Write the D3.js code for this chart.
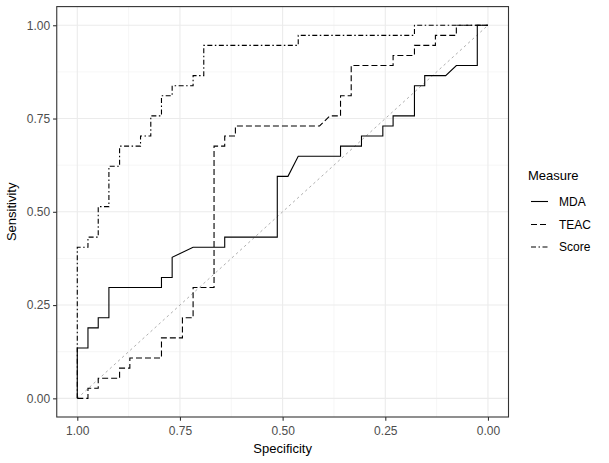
<!DOCTYPE html>
<html><head><meta charset="utf-8">
<script src="https://cdn.jsdelivr.net/npm/d3@7"></script>
<style>body{margin:0;background:#fff}svg{display:block}text{font-family:"Liberation Sans",Arial,sans-serif}</style>
</head><body>
<svg id="c" width="609" height="463"></svg>
<script>
const seriesNames = ["MDA", "TEAC", "Score"];
const dashes = ["", "6,3", "5,2.5,1.5,2.5"];

const mdaSpec = [1,1,0.974,0.974,0.949,0.949,0.923,0.923,0.795,0.795,0.769,0.769,0.718,0.641,0.641,0.513,0.513,0.487,0.462,0.359,0.359,0.308,0.308,0.256,0.256,0.231,0.231,0.179,0.179,0.154,0.154,0.103,0.077,0.026,0.026,0];
const mdaSens = [0,0.135,0.135,0.189,0.189,0.216,0.216,0.297,0.297,0.324,0.324,0.378,0.405,0.405,0.432,0.432,0.595,0.595,0.649,0.649,0.676,0.676,0.703,0.703,0.730,0.730,0.757,0.757,0.838,0.838,0.865,0.865,0.892,0.892,1,1];

const teacSpec = [1,0.974,0.974,0.949,0.949,0.897,0.897,0.872,0.872,0.795,0.795,0.744,0.744,0.718,0.718,0.667,0.667,0.641,0.641,0.615,0.615,0.410,0.385,0.359,0.359,0.333,0.333,0.231,0.231,0.179,0.179,0.128,0.128,0.077,0.077,0];
const teacSens = [0,0,0.027,0.027,0.054,0.054,0.081,0.081,0.108,0.108,0.162,0.162,0.216,0.216,0.297,0.297,0.676,0.676,0.703,0.703,0.730,0.730,0.757,0.757,0.811,0.811,0.892,0.892,0.919,0.919,0.946,0.946,0.973,0.973,1,1];

const scoreSpec = [1,1,0.974,0.974,0.949,0.949,0.923,0.923,0.897,0.897,0.846,0.846,0.821,0.821,0.795,0.795,0.769,0.769,0.718,0.718,0.692,0.692,0.462,0.462,0.179,0.179,0];
const scoreSens = [0,0.405,0.405,0.432,0.432,0.514,0.514,0.622,0.622,0.676,0.676,0.703,0.703,0.757,0.757,0.811,0.811,0.838,0.838,0.865,0.865,0.946,0.946,0.973,0.973,1,1];

const xTicks = [1, 0.75, 0.5, 0.25, 0];
const yTicks = [0, 0.25, 0.5, 0.75, 1];
const xMinor = [0.875, 0.625, 0.375, 0.125];
const yMinor = [0.125, 0.375, 0.625, 0.875];

const series = [
  {name: seriesNames[0], spec: mdaSpec, sens: mdaSens, dash: dashes[0]},
  {name: seriesNames[1], spec: teacSpec, sens: teacSens, dash: dashes[1]},
  {name: seriesNames[2], spec: scoreSpec, sens: scoreSens, dash: dashes[2]}
];

const L = 56.75, R = 508.5, T = 6.6, B = 417;
const x = d3.scaleLinear().domain([1.05, -0.05]).range([L, R]);
const y = d3.scaleLinear().domain([-0.05, 1.05]).range([B, T]);

const svg = d3.select("#c");
const g = svg.append("g");

// minor grid
g.selectAll(".xm").data(xMinor).enter().append("line")
  .attr("x1", d => x(d)).attr("x2", d => x(d)).attr("y1", T).attr("y2", B)
  .attr("stroke", "#f0f0f0").attr("stroke-width", 0.6);
g.selectAll(".ym").data(yMinor).enter().append("line")
  .attr("y1", d => y(d)).attr("y2", d => y(d)).attr("x1", L).attr("x2", R)
  .attr("stroke", "#f0f0f0").attr("stroke-width", 0.6);
// major grid
g.selectAll(".xg").data(xTicks).enter().append("line")
  .attr("x1", d => x(d)).attr("x2", d => x(d)).attr("y1", T).attr("y2", B)
  .attr("stroke", "#ebebeb").attr("stroke-width", 1.1);
g.selectAll(".yg").data(yTicks).enter().append("line")
  .attr("y1", d => y(d)).attr("y2", d => y(d)).attr("x1", L).attr("x2", R)
  .attr("stroke", "#ebebeb").attr("stroke-width", 1.1);

// diagonal reference
g.append("line")
  .attr("x1", x(1)).attr("y1", y(0)).attr("x2", x(0)).attr("y2", y(1))
  .attr("stroke", "#999999").attr("stroke-width", 0.8).attr("stroke-dasharray", "2.5,3");

// curves
const line = d3.line().x(d => x(d[0])).y(d => y(d[1]));
series.forEach(s => {
  const pts = s.spec.map((v, i) => [v, s.sens[i]]);
  g.append("path").attr("d", line(pts))
    .attr("fill", "none").attr("stroke", "#000").attr("stroke-width", 1.1)
    .attr("stroke-dasharray", s.dash || null);
});

// panel border
g.append("rect").attr("x", L).attr("y", T).attr("width", R - L).attr("height", B - T)
  .attr("fill", "none").attr("stroke", "#333333").attr("stroke-width", 1.1);

// axes
const xAxis = d3.axisBottom(x).tickValues(xTicks).tickFormat(d3.format(".2f")).tickSize(3.7).tickPadding(3);
const yAxis = d3.axisLeft(y).tickValues(yTicks).tickFormat(d3.format(".2f")).tickSize(3.7).tickPadding(3);
const gx = svg.append("g").attr("transform", `translate(0,${B})`).call(xAxis);
const gy = svg.append("g").attr("transform", `translate(${L},0)`).call(yAxis);
[gx, gy].forEach(a => {
  a.select(".domain").remove();
  a.selectAll(".tick line").attr("stroke", "#333333").attr("stroke-width", 1.1);
  a.selectAll(".tick text").attr("fill", "#4d4d4d").style("font-size", "12px")
    .style("font-family", '"Liberation Sans",Arial,sans-serif');
});
gx.selectAll(".tick text").attr("dy", "0.95em");

// axis titles
svg.append("text").attr("x", (L + R) / 2).attr("y", 453).attr("text-anchor", "middle")
  .style("font-size", "13px").attr("fill", "#000").text("Specificity");
svg.append("text").attr("transform", `translate(16,${(T + B) / 2}) rotate(-90)`)
  .attr("text-anchor", "middle").style("font-size", "13px").attr("fill", "#000").text("Sensitivity");

// legend
const lg = svg.append("g");
lg.append("text").attr("x", 528).attr("y", 180).style("font-size", "13px").attr("fill", "#000").text("Measure");
const keyY = [201.5, 224.5, 247];
series.forEach((s, i) => {
  lg.append("line").attr("x1", 531).attr("x2", 548).attr("y1", keyY[i]).attr("y2", keyY[i])
    .attr("stroke", "#000").attr("stroke-width", 1.1).attr("stroke-dasharray", s.dash || null);
  lg.append("text").attr("x", 559).attr("y", keyY[i] + 4.3).style("font-size", "12px")
    .attr("fill", "#000").text(s.name);
});
</script>
</body></html>
